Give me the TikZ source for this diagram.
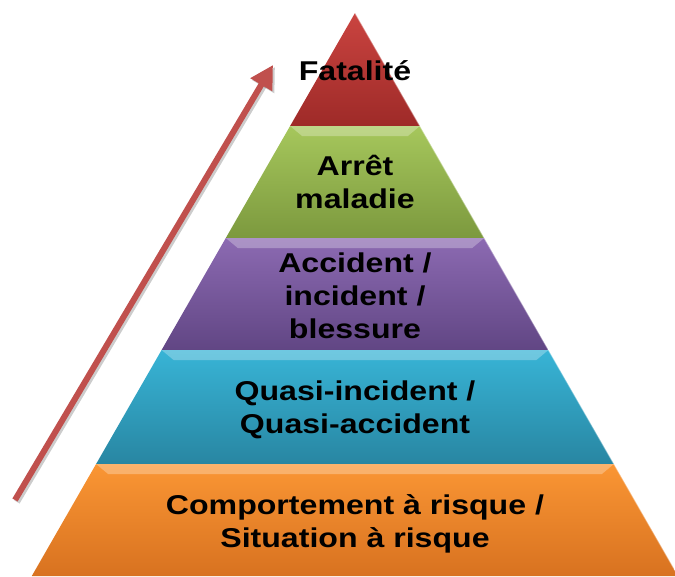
\documentclass[tikz,border=0pt]{standalone}
\usepackage{fontspec}
\newfontfamily\pyrfont{Liberation Sans}[FakeStretch=1.18]
\usetikzlibrary{arrows.meta,calc}
\definecolor{arrowred}{RGB}{192,80,77}
\definecolor{redtop}{RGB}{202,68,64}
\definecolor{redbot}{RGB}{158,42,40}
\definecolor{greentop}{RGB}{166,199,92}
\definecolor{greenbot}{RGB}{124,153,62}
\definecolor{purpletop}{RGB}{140,106,178}
\definecolor{purplebot}{RGB}{97,70,132}
\definecolor{bluetop}{RGB}{56,180,214}
\definecolor{bluebot}{RGB}{40,134,162}
\definecolor{orangetop}{RGB}{250,150,52}
\definecolor{orangebot}{RGB}{216,114,32}

\begin{document}
\begin{tikzpicture}[
    x=1pt, y=-1pt,
    layertext/.style={font=\pyrfont\bfseries\fontsize{27.2}{33}\selectfont,
                      align=center, anchor=base, inner sep=0pt},
    bevel/.style={fill=white, opacity=0.28},
    rimlight/.style={draw=white, opacity=0.4, line width=1.2pt},
]
\useasboundingbox (0,0) rectangle (675,576);
\clip (0,0) rectangle (675,576);

% Pyramid corners
\coordinate (apex) at (355,13);
\coordinate (l1) at (290.1,126); \coordinate (r1) at (419.9,126);
\coordinate (l2) at (225.8,238); \coordinate (r2) at (484.2,238);
\coordinate (l3) at (161.6,350); \coordinate (r3) at (548.4,350);
\coordinate (l4) at (96.1,464);  \coordinate (r4) at (613.9,464);
\coordinate (l5) at (31.8,576);  \coordinate (r5) at (678.2,576);

% Layers
\shade[top color=redtop, bottom color=redbot] (apex) -- (r1) -- (l1) -- cycle;
\shade[top color=greentop, bottom color=greenbot] (l1) -- (r1) -- (r2) -- (l2) -- cycle;
\shade[top color=purpletop, bottom color=purplebot] (l2) -- (r2) -- (r3) -- (l3) -- cycle;
\shade[top color=bluetop, bottom color=bluebot] (l3) -- (r3) -- (r4) -- (l4) -- cycle;
\shade[top color=orangetop, bottom color=orangebot] (l4) -- (r4) -- (r5) -- (l5) -- cycle;

% Top bevels
\fill[bevel] (l1) -- (r1) -- ($(r1)+(-12,10)$) -- ($(l1)+(12,10)$) -- cycle;
\fill[bevel] (l2) -- (r2) -- ($(r2)+(-12,10)$) -- ($(l2)+(12,10)$) -- cycle;
\fill[bevel] (l3) -- (r3) -- ($(r3)+(-12,10)$) -- ($(l3)+(12,10)$) -- cycle;
\fill[bevel] (l4) -- (r4) -- ($(r4)+(-12,10)$) -- ($(l4)+(12,10)$) -- cycle;

% Right rim
\draw[rimlight] (apex) -- (r5);

% Labels (base = last line)
\node[layertext] (fatal) at (355,80) {Fatalité};
\node[layertext] (arret) at (355,208) {Arrêt\\maladie};
\node[layertext] (accident) at (355,338) {Accident /\\incident /\\blessure};
\node[layertext] (quasi) at (355,433) {Quasi-incident /\\Quasi-accident};
\node[layertext] (comport) at (355,547) {Comportement à risque /\\Situation à risque};

% Severity arrow
\coordinate (arrowtail) at (15,500);
\coordinate (arrowtip) at (273,65);
\draw[black, opacity=0.2, line width=6pt, -{Triangle[length=23pt,width=24pt]}]
    ($(arrowtail)+(2,2)$) -- ($(arrowtip)+(2,2)$);
\draw[arrowred, line width=6pt, -{Triangle[length=23pt,width=24pt]}] (arrowtail) -- (arrowtip);

\end{tikzpicture}
\end{document}
